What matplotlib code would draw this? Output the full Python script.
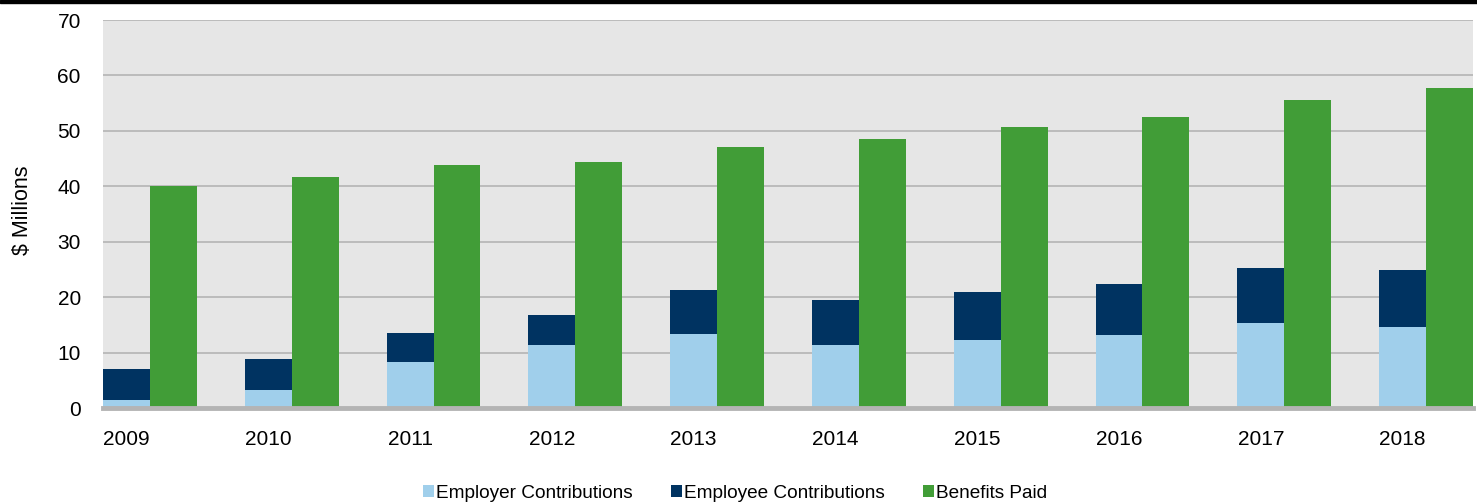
import numpy as np
import matplotlib
matplotlib.use("Agg")
import matplotlib.pyplot as plt
from matplotlib.patches import Rectangle

plt.rcParams['font.family'] = ['Liberation Sans', 'DejaVu Sans']

years = ['2009', '2010', '2011', '2012', '2013', '2014', '2015', '2016', '2017', '2018']
employer = [1.4, 3.2, 8.3, 11.3, 13.4, 11.3, 12.3, 13.2, 15.3, 14.7]
employee = [5.7, 5.7, 5.2, 5.5, 7.9, 8.2, 8.7, 9.1, 9.9, 10.2]
benefits = [40.1, 41.6, 43.8, 44.4, 47.1, 48.6, 50.7, 52.5, 55.6, 57.7]

c_employer = '#a0cfeb'
c_employee = '#003361'
c_benefits = '#419d37'

fig = plt.figure(figsize=(14.77, 5.03), dpi=100)
ax = fig.add_axes([103 / 1477, 1 - 408 / 503, 1370 / 1477, 388 / 503])
ax.set_facecolor('#e6e6e6')

x = np.arange(len(years))
w = 0.331

ax.bar(x - w / 2, employer, w, color=c_employer, label='Employer Contributions', zorder=3)
ax.bar(x - w / 2, employee, w, bottom=employer, color=c_employee,
       label='Employee Contributions', zorder=3)
ax.bar(x + w / 2, benefits, w, color=c_benefits, label='Benefits Paid', zorder=3)

ax.set_xlim(-w, len(years) - 1 + w)
ax.set_ylim(0, 70)
ax.set_yticks(range(0, 71, 10))
ax.grid(axis='y', color='#b4b4b4', linewidth=1.2, zorder=1)
ax.set_axisbelow(True)

ax.set_xticks(x - w / 2)
ax.set_xticklabels(years)
ax.tick_params(axis='x', length=0, pad=15.5, labelsize=15)
ax.tick_params(axis='y', length=0, pad=16, labelsize=15)

for side in ['top', 'right', 'left']:
    ax.spines[side].set_visible(False)
ax.spines['bottom'].set_color('#b4b4b4')
ax.spines['bottom'].set_linewidth(3.5)
ax.spines['bottom'].set_zorder(4)

fig.text(23 / 1477, 1 - 210 / 503, '$ Millions', rotation=90, ha='center', va='center',
         fontsize=15.5)

fig.legend(loc='center', bbox_to_anchor=(0.4976, 1 - 493 / 503), ncol=3, frameon=False,
           fontsize=13.7, handlelength=0.6, handleheight=0.6, handletextpad=0.1,
           columnspacing=2.0, borderpad=0)

# black rule across the top edge
fig.add_artist(Rectangle((0, 1 - 2.5 / 503), 1, 2.5 / 503, transform=fig.transFigure,
                         color='black', zorder=10))

fig.savefig('out.png', dpi=100)
